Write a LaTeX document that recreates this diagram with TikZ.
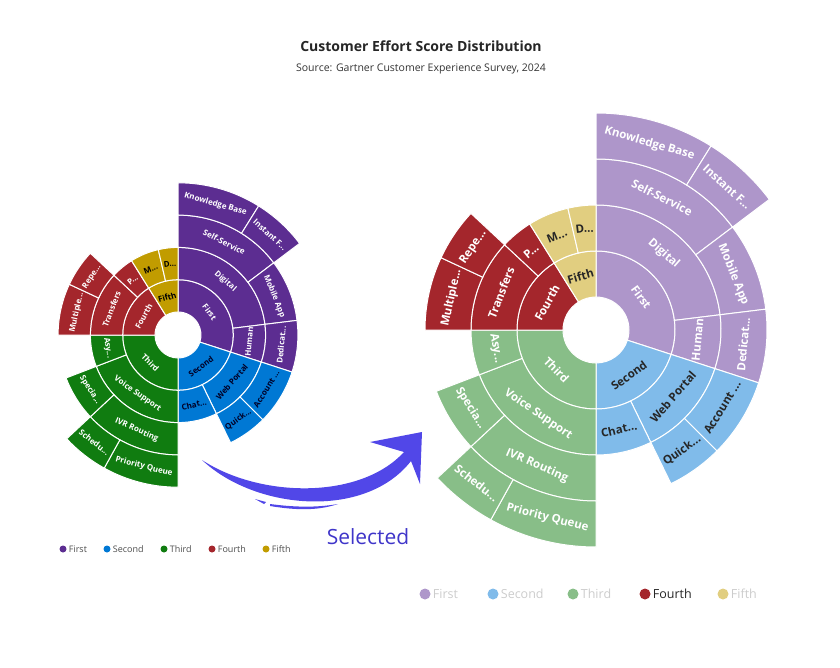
\documentclass[tikz,border=0pt]{standalone}
\usepackage{fontspec}
\setmainfont{Open Sans}
\usepackage{tikz}
\usetikzlibrary{positioning}

\definecolor{cFirst}{HTML}{5C2D91}
\definecolor{cSecond}{HTML}{0078D4}
\definecolor{cThird}{HTML}{107C10}
\definecolor{cFourth}{HTML}{A4262C}
\definecolor{cFifth}{HTML}{C19C00}
\definecolor{fFirst}{HTML}{AE96CA}
\definecolor{fSecond}{HTML}{80BBEA}
\definecolor{fThird}{HTML}{88BE88}
\definecolor{fFifth}{HTML}{E1CE80}
\definecolor{arrowblue}{HTML}{5147E8}
\definecolor{selblue}{HTML}{3F35C9}

\tikzset{
    seg/.style={draw=white, line width=1pt},
    dot/.style={circle, inner sep=0pt, minimum size=#1},
    lgtext/.style={right, inner sep=2pt},
    title/.style={font=\fontsize{14}{16}\selectfont\bfseries, text=black!85},
    subtitle/.style={font=\fontsize{10.5}{12}\selectfont, text=black!80}
}

% one ring segment: fill, text colour, level, start angle, end angle, label
\newcommand\sbseg[6]{%
    \pgfmathsetmacro\sbri{\sbH+(#3-1)*\sbW}%
    \pgfmathsetmacro\sbro{\sbri+\sbW}%
    \pgfmathsetmacro\sbrmid{(\sbri+\sbro)/2}%
    \pgfmathsetmacro\sbam{(#4+#5)/2}%
    \pgfmathsetmacro\sbrot{or(\sbam<90,\sbam>270) ? -\sbam : 180-\sbam}%
    \filldraw[seg, fill=#1] (#4-90:\sbri) arc (#4-90:#5-90:\sbri)
        -- (#5-90:\sbro) arc (#5-90:#4-90:\sbro) -- cycle;
    \node[text=#2, rotate=\sbrot, font=\sbfont, inner sep=0pt] at (\sbam-90:\sbrmid) {#6};
}

% the whole sunburst, colours taken from \cA..\cE and \tA..\tE
\newcommand\sbdata{%
    % first
    \sbseg{\cA}{\tA}{1}{0}{108}{First}
    \sbseg{\cA}{\tA}{2}{0}{83}{Digital}
    \sbseg{\cA}{\tA}{2}{83}{108}{Human}
    \sbseg{\cA}{\tA}{3}{0}{53}{Self-Service}
    \sbseg{\cA}{\tA}{3}{53}{83}{Mobile App}
    \sbseg{\cA}{\tA}{3}{83}{108}{Dedicat...}
    \sbseg{\cA}{\tA}{4}{0}{32}{Knowledge Base}
    \sbseg{\cA}{\tA}{4}{32}{53}{Instant F...}
    % second
    \sbseg{\cB}{\tB}{1}{108}{180}{Second}
    \sbseg{\cB}{\tB}{2}{108}{154}{Web Portal}
    \sbseg{\cB}{\tB}{2}{154}{180}{Chat...}
    \sbseg{\cB}{\tB}{3}{108}{135}{Account ...}
    \sbseg{\cB}{\tB}{3}{135}{154}{Quick...}
    % third
    \sbseg{\cC}{\tC}{1}{180}{270}{Third}
    \sbseg{\cC}{\tC}{2}{180}{249}{Voice Support}
    \sbseg{\cC}{\tC}{2}{249}{270}{Asy...}
    \sbseg{\cC}{\tC}{3}{180}{227}{IVR Routing}
    \sbseg{\cC}{\tC}{3}{227}{249}{Specia...}
    \sbseg{\cC}{\tC}{4}{180}{209}{Priority Queue}
    \sbseg{\cC}{\tC}{4}{209}{227}{Schedu...}
    % fourth
    \sbseg{\cD}{\tD}{1}{270}{328}{Fourth}
    \sbseg{\cD}{\tD}{2}{270}{313}{Transfers}
    \sbseg{\cD}{\tD}{2}{313}{328}{P...}
    \sbseg{\cD}{\tD}{3}{270}{295}{Multiple...}
    \sbseg{\cD}{\tD}{3}{295}{313}{Repe...}
    % fifth
    \sbseg{\cE}{\tE}{1}{328}{360}{Fifth}
    \sbseg{\cE}{\tE}{2}{328}{347}{M...}
    \sbseg{\cE}{\tE}{2}{347}{360}{D...}
}

\begin{document}
\begin{tikzpicture}[x=1pt, y=-1pt]
    \useasboundingbox (0,0) rectangle (840,668);

    % Title
    \node[title] (title) at (421,46) {Customer Effort Score Distribution};
    \node[subtitle] (subtitle) at (421,69) {Source: Gartner Customer Experience Survey, 2024};

    % Left sunburst
    \begin{scope}[shift={(178,335)}]
        \def\sbH{23}\def\sbW{32.3}
        \def\sbfont{\fontsize{8}{9}\selectfont\bfseries}
        \def\cA{cFirst}\def\cB{cSecond}\def\cC{cThird}\def\cD{cFourth}\def\cE{cFifth}
        \def\tA{white}\def\tB{black!85!blue}\def\tC{white}\def\tD{white}\def\tE{black}
        \sbdata
    \end{scope}

    % Right sunburst
    \begin{scope}[shift={(596,330)}]
        \def\sbH{33}\def\sbW{46}
        \def\sbfont{\fontsize{11.5}{13}\selectfont\bfseries}
        \def\cA{fFirst}\def\cB{fSecond}\def\cC{fThird}\def\cD{cFourth}\def\cE{fFifth}
        \def\tA{white}\def\tB{black!85}\def\tC{white}\def\tD{white}\def\tE{black!85}
        \sbdata
    \end{scope}

    % Curved arrow
    \coordinate (arrowtail) at (202,460);
    \coordinate (arrowtip) at (422,432);
    \fill[arrowblue] (arrowtail) .. controls (260,498) and (360,500) .. (404,452)
        -- (370,442) -- (arrowtip) -- (420,484) -- (411,461)
        .. controls (365,520) and (255,510) .. (arrowtail) -- cycle;
    \fill[arrowblue] (255,499) -- (266,502) -- (264,504) -- cycle;
    \fill[arrowblue] (270,504) .. controls (300,508) and (320,507) .. (338,504)
        .. controls (320,510) and (300,511) .. (270,506) -- cycle;
    \node[text=selblue, font=\fontsize{21}{24}\selectfont] (selected) at (368,537) {Selected};

    % Left legend
    \foreach \c/\t/\x in {cFirst/First/63, cSecond/Second/107, cThird/Third/164, cFourth/Fourth/212, cFifth/Fifth/266}
        \node[dot=7pt, fill=\c, label={[lgtext, font=\fontsize{9}{10}\selectfont, text=black!70]right:\t}] (lg\t) at (\x,549) {};

    % Right legend
    \foreach \c/\t/\x/\tc in {fFirst/First/425/black!20, fSecond/Second/493/black!20, fThird/Third/573/black!20, cFourth/Fourth/645/black!85, fFifth/Fifth/723/black!20}
        \node[dot=11pt, fill=\c, label={[lgtext, font=\fontsize{12.5}{14}\selectfont, text=\tc]right:\t}] (lgr\t) at (\x,594) {};
\end{tikzpicture}
\end{document}
